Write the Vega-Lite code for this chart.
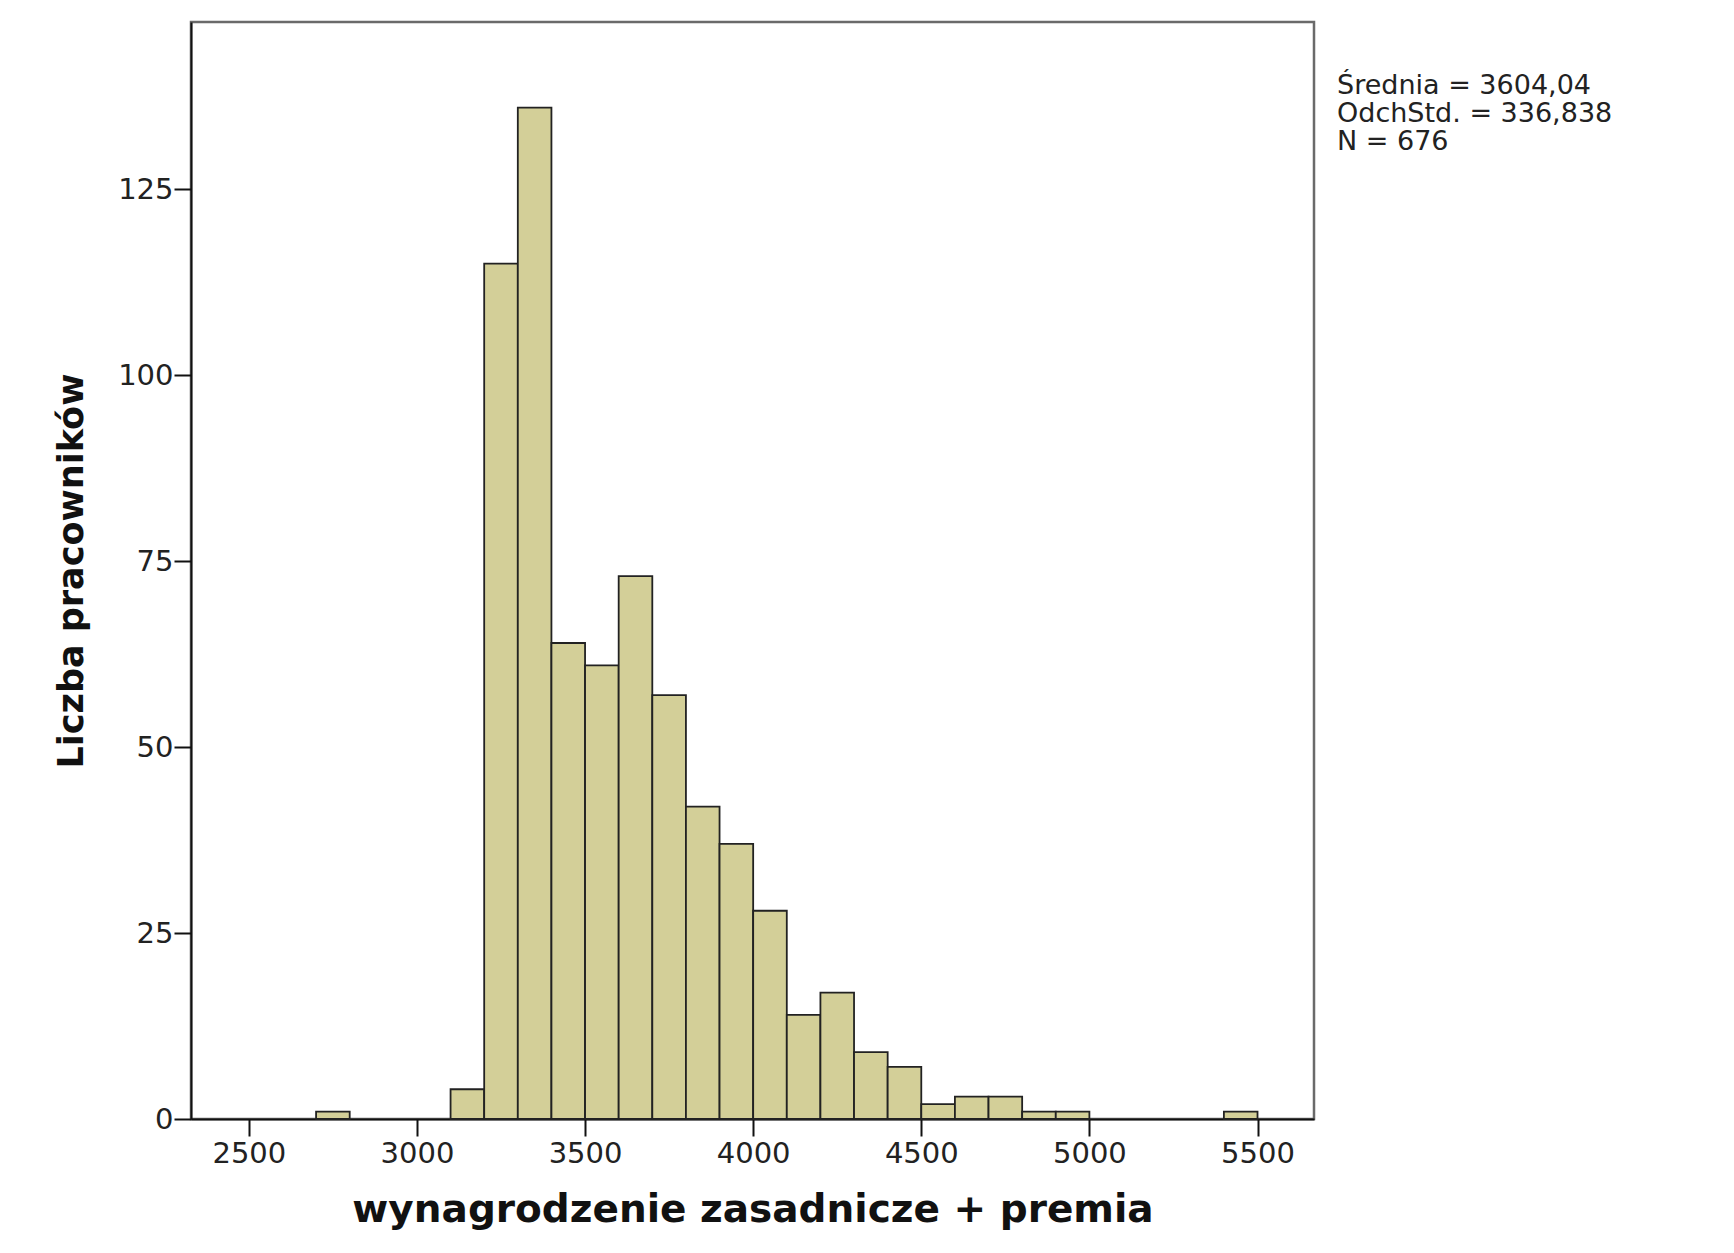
{
  "$schema": "https://vega.github.io/schema/vega-lite/v6.json",
  "autosize": {"type": "none"},
  "width": 1123,
  "height": 1097,
  "padding": {"left": 191, "top": 22, "right": 420, "bottom": 134},
  "background": "white",
  "config": {
    "view": {"fill": "#f0f0f0", "stroke": "#6a6a6a", "strokeWidth": 2.5},
    "axis": {
      "grid": false,
      "domainColor": "#111111",
      "domainWidth": 2,
      "tickColor": "#111111",
      "tickWidth": 2,
      "tickSize": 17,
      "labelFont": "DejaVu Sans",
      "labelFontSize": 29,
      "labelColor": "#222222",
      "titleFont": "DejaVu Sans",
      "titleFontWeight": "bold",
      "titleColor": "#111111"
    }
  },
  "layer": [
    {
      "data": {
        "values": [
          {"bin_start": 2700, "bin_end": 2800, "count": 1},
          {"bin_start": 3100, "bin_end": 3200, "count": 4},
          {"bin_start": 3200, "bin_end": 3300, "count": 115},
          {"bin_start": 3300, "bin_end": 3400, "count": 136},
          {"bin_start": 3400, "bin_end": 3500, "count": 64},
          {"bin_start": 3500, "bin_end": 3600, "count": 61},
          {"bin_start": 3600, "bin_end": 3700, "count": 73},
          {"bin_start": 3700, "bin_end": 3800, "count": 57},
          {"bin_start": 3800, "bin_end": 3900, "count": 42},
          {"bin_start": 3900, "bin_end": 4000, "count": 37},
          {"bin_start": 4000, "bin_end": 4100, "count": 28},
          {"bin_start": 4100, "bin_end": 4200, "count": 14},
          {"bin_start": 4200, "bin_end": 4300, "count": 17},
          {"bin_start": 4300, "bin_end": 4400, "count": 9},
          {"bin_start": 4400, "bin_end": 4500, "count": 7},
          {"bin_start": 4500, "bin_end": 4600, "count": 2},
          {"bin_start": 4600, "bin_end": 4700, "count": 3},
          {"bin_start": 4700, "bin_end": 4800, "count": 3},
          {"bin_start": 4800, "bin_end": 4900, "count": 1},
          {"bin_start": 4900, "bin_end": 5000, "count": 1},
          {"bin_start": 5400, "bin_end": 5500, "count": 1}
        ]
      },
      "mark": {"type": "rect", "fill": "#d3cf98", "stroke": "#222222", "strokeWidth": 1.8},
      "encoding": {
        "x": {
          "field": "bin_start",
          "type": "quantitative",
          "scale": {"domain": [2328, 5668], "nice": false, "zero": false},
          "axis": {
            "values": [2500, 3000, 3500, 4000, 4500, 5000, 5500],
            "format": "d",
            "labelPadding": 3,
            "title": "wynagrodzenie zasadnicze + premia",
            "titleFontSize": 39,
            "titlePadding": 22
          }
        },
        "x2": {"field": "bin_end"},
        "y": {
          "field": "count",
          "type": "quantitative",
          "scale": {"domain": [0, 147.5], "nice": false},
          "axis": {
            "values": [0, 25, 50, 75, 100, 125],
            "labelPadding": 1,
            "title": "Liczba pracowników",
            "titleFontSize": 35,
            "titlePadding": 28
          }
        },
        "y2": {"datum": 0}
      }
    },
    {
      "data": {
        "values": [
          {"stat": "Średnia = 3604,04"},
          {"stat": "OdchStd. = 336,838"},
          {"stat": "N = 676"}
        ]
      },
      "mark": {"type": "point", "opacity": 0},
      "encoding": {
        "color": {
          "field": "stat",
          "type": "nominal",
          "scale": {
            "domain": ["Średnia = 3604,04", "OdchStd. = 336,838", "N = 676"],
            "range": ["#000000", "#000000", "#000000"]
          },
          "legend": {
            "title": null,
            "orient": "none",
            "legendX": 1119,
            "legendY": 50,
            "padding": 0,
            "symbolSize": 0,
            "symbolOpacity": 0,
            "symbolStrokeWidth": 0,
            "labelOffset": 0,
            "labelFont": "DejaVu Sans",
            "labelFontSize": 27,
            "labelColor": "#222222",
            "labelLimit": 0,
            "rowPadding": 0
          }
        }
      }
    }
  ]
}
